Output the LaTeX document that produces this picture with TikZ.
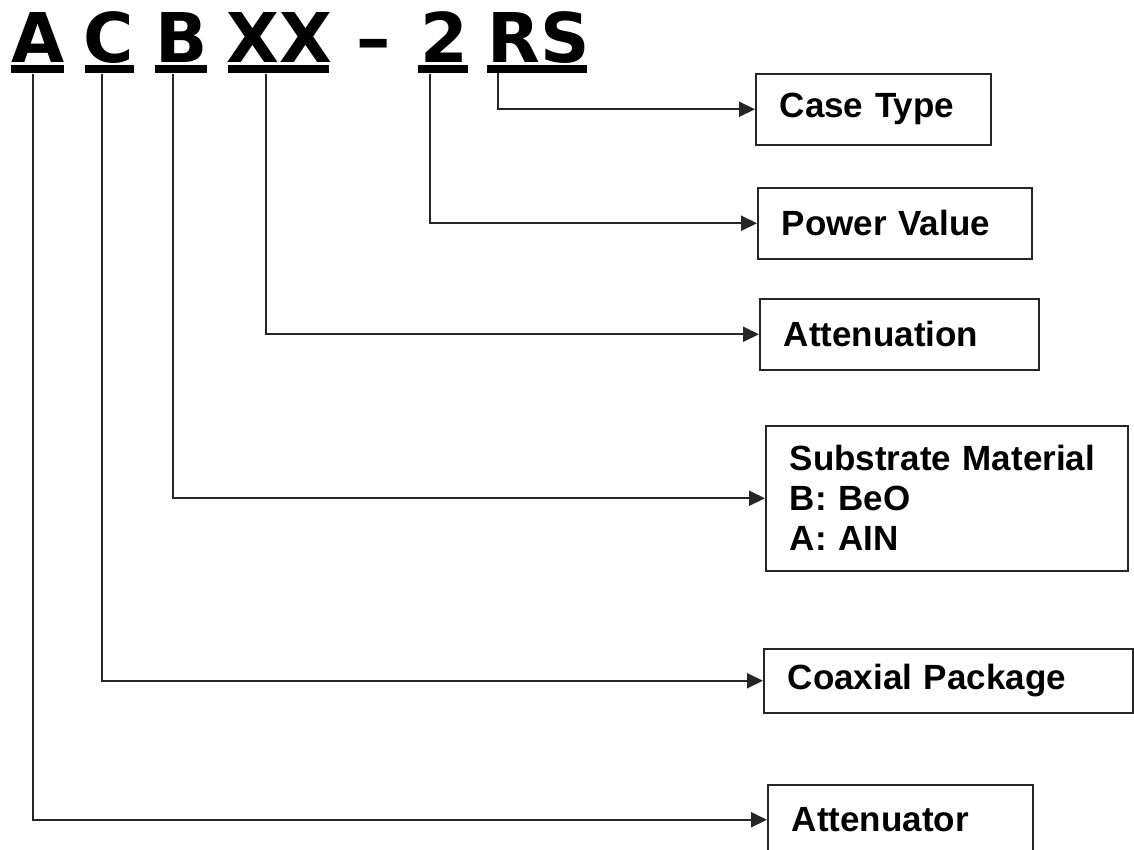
\documentclass[tikz,border=0pt]{standalone}
\usepackage{fontspec}
\setmainfont{Liberation Sans}
\newfontfamily\codefont{DejaVu Sans}
\usetikzlibrary{arrows.meta}

\tikzset{
	partbox/.style={
		rectangle, draw=black!85, line width=1.5pt, anchor=north west,
		inner xsep=24pt, inner ysep=0pt, align=left,
		font=\bfseries\fontsize{35}{40}\selectfont
	},
	codeletter/.style={anchor=base, inner sep=0pt, font=\codefont\bfseries\fontsize{68.6}{70}\selectfont},
	codebar/.style={line width=8pt},
	feed/.style={line width=2pt, draw=black!85, -{Triangle[length=16pt,width=15pt]}}
}

\begin{document}
\begin{tikzpicture}[x=1pt, y=-1pt]
		\useasboundingbox (0,0) rectangle (1134,849);

		% part number
		\node[codeletter] (lA) at (38,62) {A};
		\node[codeletter] (lC) at (109,62) {C};
		\node[codeletter] (lB) at (182,62) {B};
		\node[codeletter] (lXX) at (279,62) {XX};
		\node[codeletter] (lDash) at (374,62) {–};
		\node[codeletter] (l2) at (444,62) {2};
		\node[codeletter] (lRS) at (539,62) {RS};

		\foreach \a/\b in {11/64, 85/134, 155/207, 228/329, 418/468, 487/587} {
				\draw[codebar] (\a,69) -- (\b,69);
			}

		% meaning of each field
		\node[partbox, text width=187pt, minimum height=71pt] (caseType) at (755,73) {Case Type};
		\node[partbox, text width=226pt, minimum height=71pt] (powerValue) at (757,187) {Power Value};
		\node[partbox, text width=231pt, minimum height=71pt] (attenuation) at (759,298) {Attenuation};
		\node[partbox, text width=314pt, minimum height=145pt] (substrate) at (765,425)
		{Substrate Material\\B: BeO\\A: AIN};
		\node[partbox, text width=321pt, minimum height=64pt] (coaxial) at (763,648) {Coaxial Package};
		\node[partbox, text width=217pt, minimum height=70pt] (attenuator) at (767,784) {Attenuator};

		\coordinate (sA) at (33,74);
		\coordinate (sC) at (102,74);
		\coordinate (sB) at (173,74);
		\coordinate (sXX) at (266,74);
		\coordinate (s2) at (430,74);
		\coordinate (sRS) at (498,73);

		\draw[feed] (sRS) |- (caseType.west);
		\draw[feed] (s2) |- (powerValue.west);
		\draw[feed] (sXX) |- (attenuation.west);
		\draw[feed] (sB) |- (substrate.west);
		\draw[feed] (sC) |- (coaxial.west);
		\draw[feed] (sA) |- (attenuator.west);
	\end{tikzpicture}
\end{document}
